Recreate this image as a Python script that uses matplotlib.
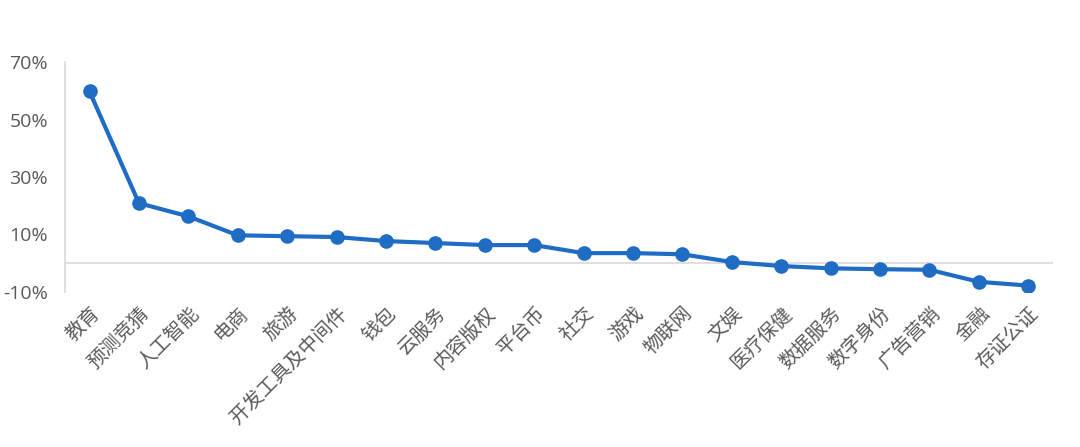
import numpy as np
import matplotlib
matplotlib.use("Agg")
import matplotlib.pyplot as plt
from matplotlib.ticker import FuncFormatter

plt.rcParams['font.family'] = ['Noto Sans CJK SC', 'DejaVu Sans']

# 各领域数值（%）
categories = ['教育', '预测竞猜', '人工智能', '电商', '旅游', '开发工具及中间件', '钱包',
              '云服务', '内容版权', '平台币', '社交', '游戏', '物联网', '文娱', '医疗保健',
              '数据服务', '数字身份', '广告营销', '金融', '存证公证']
values = [59.8, 20.9, 16.3, 9.7, 9.4, 9.1, 7.7, 7.0, 6.3, 6.3,
          3.5, 3.5, 3.1, 0.4, -1.0, -1.8, -2.1, -2.3, -6.5, -7.8]
y_ticks = [-10, 10, 30, 50, 70]

fig = plt.figure(figsize=(10.8, 4.47), dpi=100)
ax = fig.add_axes([0.060, 0.347, 0.915, 0.514])

x = np.arange(len(categories))
ax.plot(x, values, color='#1f6cc4', linewidth=3, marker='o', markersize=9.5,
        solid_capstyle='round', zorder=3)

ax.axhline(0, color='#d9d9d9', linewidth=1.2, zorder=1)

ax.set_xlim(-0.5, len(categories) - 0.5)
ax.set_ylim(-10, 70)
ax.set_yticks(y_ticks)
ax.yaxis.set_major_formatter(FuncFormatter(lambda v, p: f'{v:.0f}%'))
ax.set_xticks(x)
ax.set_xticklabels(categories, rotation=45, ha='right', rotation_mode='anchor')

for s in ['top', 'right', 'bottom']:
    ax.spines[s].set_visible(False)
ax.spines['left'].set_color('#d9d9d9')
ax.spines['left'].set_linewidth(1.2)

ax.tick_params(axis='both', length=0, colors='#595959')
ax.tick_params(axis='y', labelsize=14, pad=12)
ax.tick_params(axis='x', labelsize=14, pad=8)
for lbl in ax.get_yticklabels():
    lbl.set_fontfamily(['Open Sans', 'DejaVu Sans'])

fig.savefig('out.png', dpi=100, facecolor='white')
